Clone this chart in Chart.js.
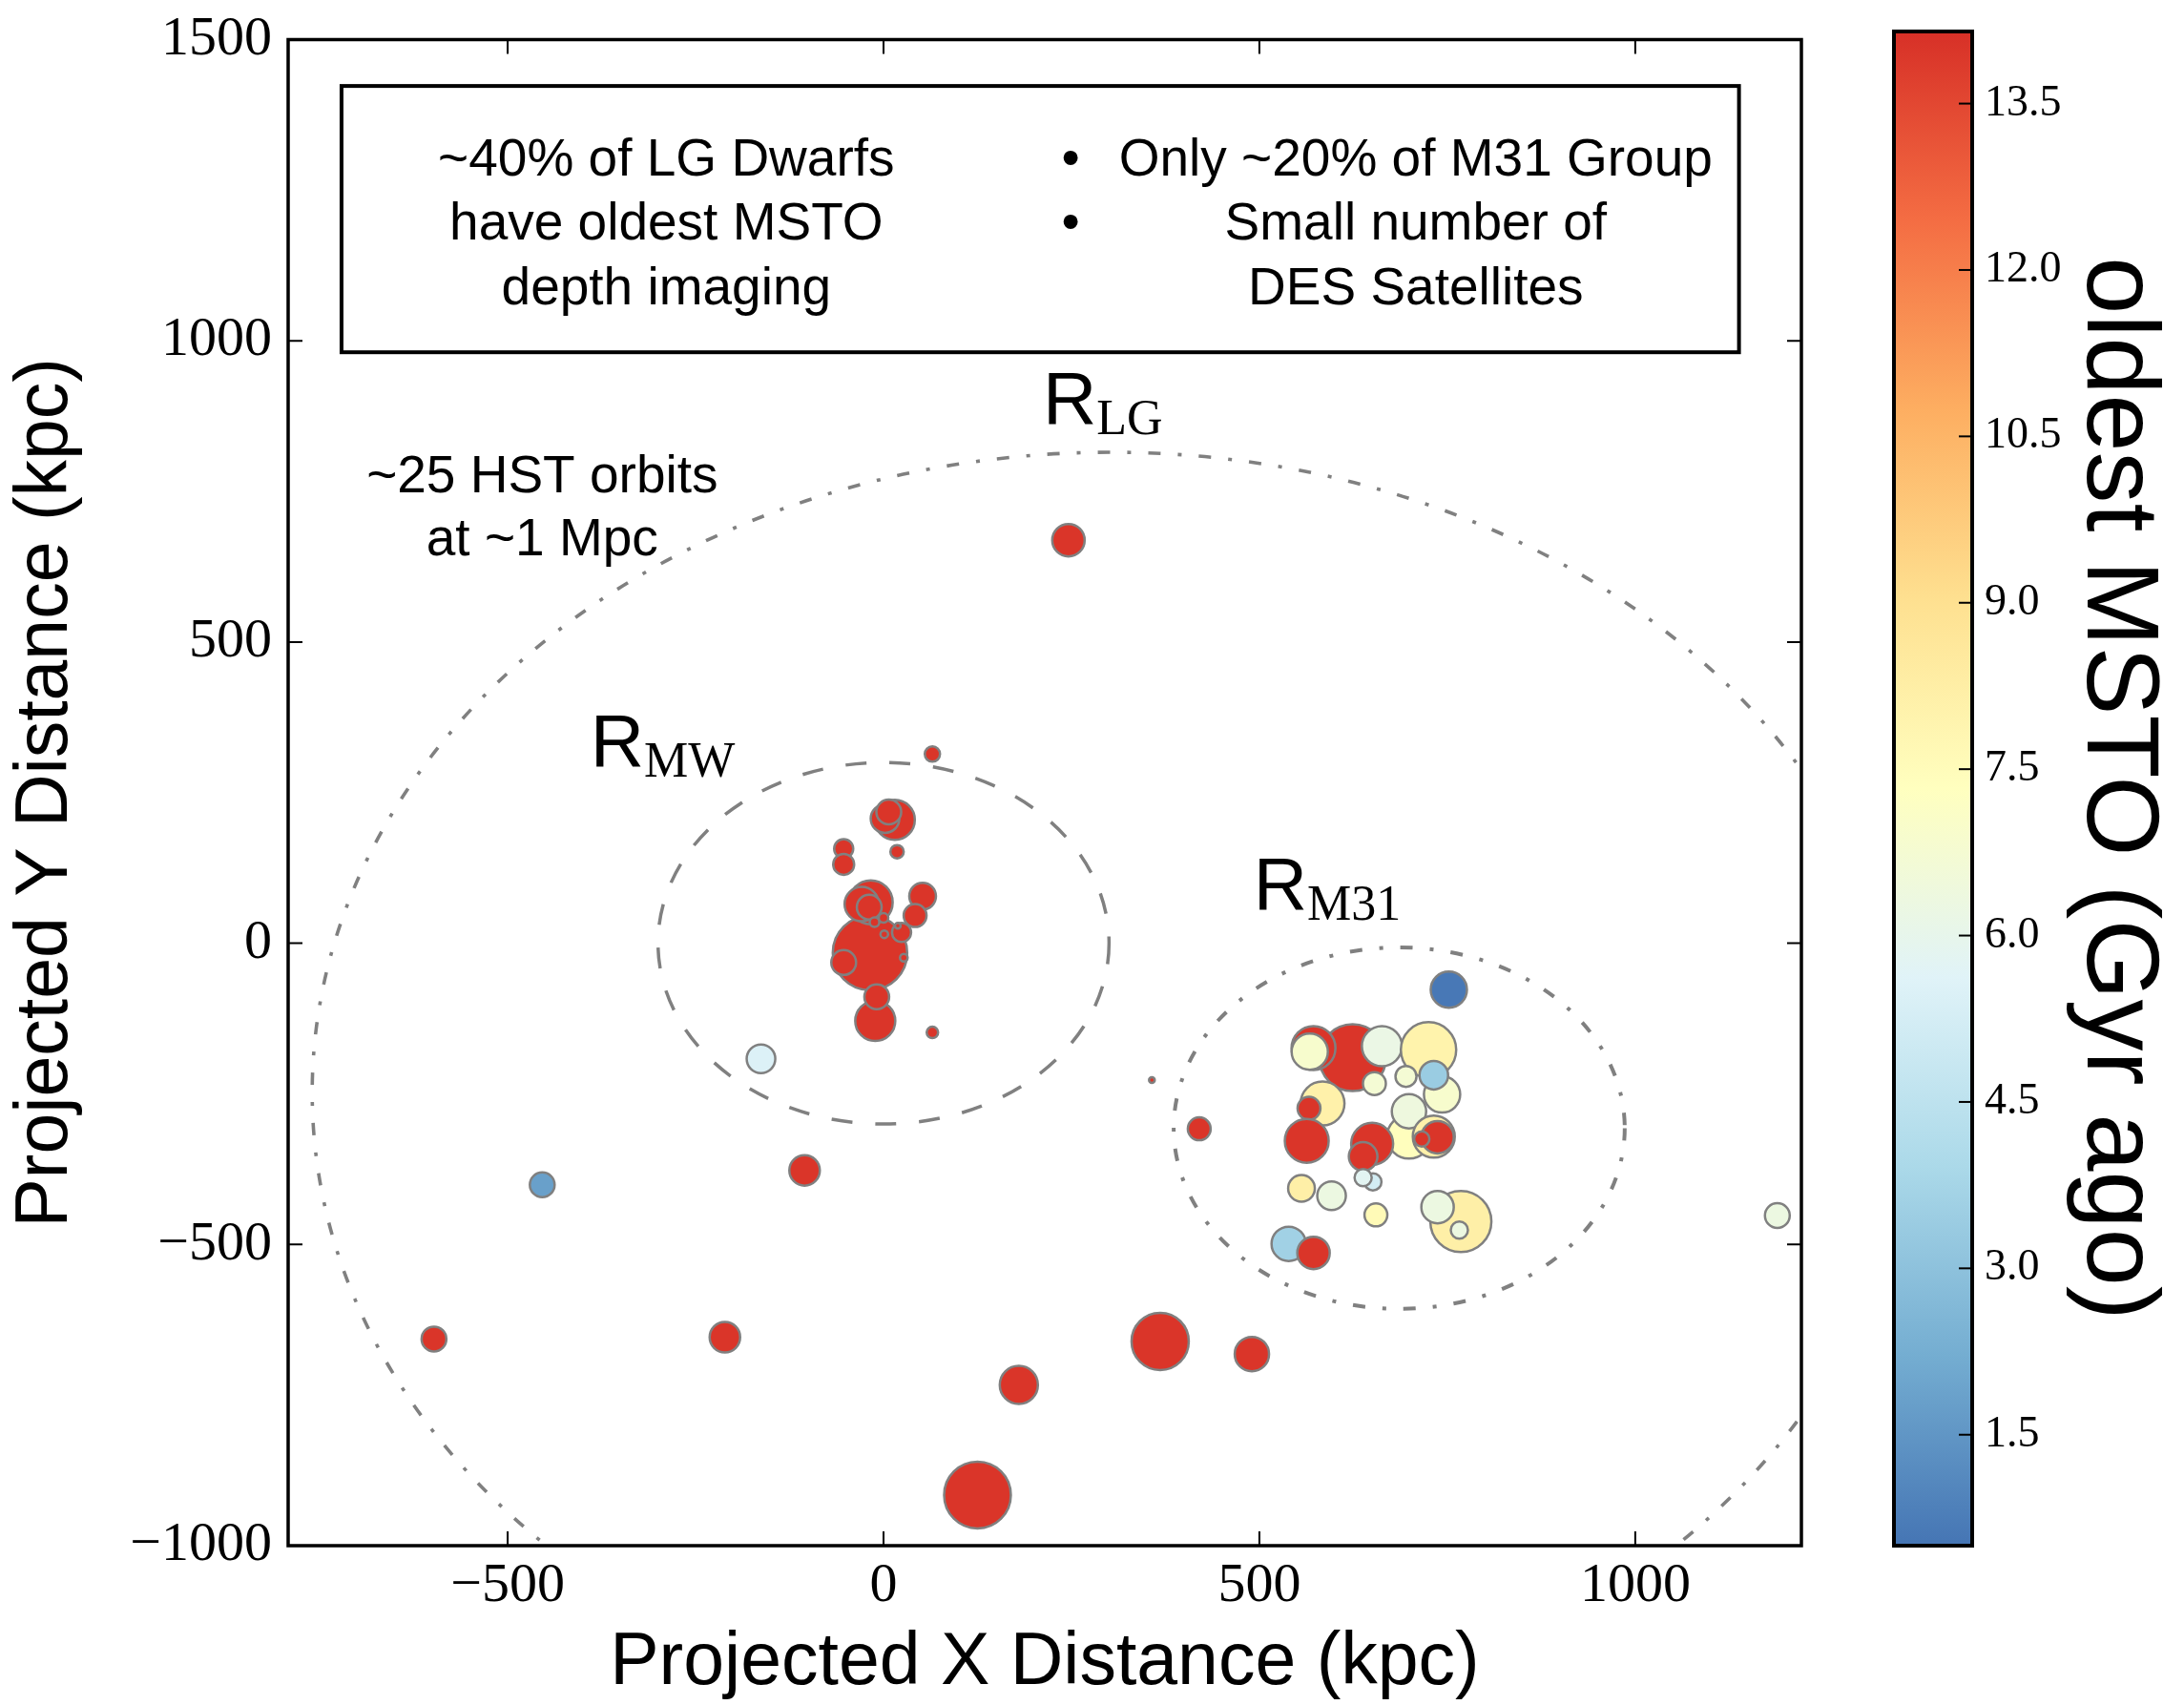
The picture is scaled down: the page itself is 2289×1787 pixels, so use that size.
<!DOCTYPE html>
<html>
<head>
<meta charset="utf-8">
<script src="https://cdn.jsdelivr.net/npm/chart.js@4.4.1/dist/chart.umd.min.js"></script>
<style>
  body { margin: 0; background: #fff; }
  #wrap { position: relative; width: 2289px; height: 1787px; }
  #grafico { position: absolute; left: 0; top: 0; }
  #barra { position: absolute; left: 1940px; top: 0; }
</style>
</head>
<body>
<div id="wrap">
  <canvas id="grafico" width="1960" height="1787"></canvas>
  <canvas id="barra" width="349" height="1787"></canvas>
</div>
<script>
// galaxias do grupo da Via Lactea (kpc, raio do marcador, idade em Gyr)
const mwX = [-18, -17, -29, -19, 52, 42, 24, -53, -11, -9, 15, 2, 7, 18, -53, -53, 65, 65, -12, 0, 1, 19, 27, -163];
const mwY = [-16, 68, 65, 60, 78, 46, 18, -32, -129, -89, 205, 207, 218, 152, 157, 131, 314, -148, 35, 42, 15, 29, -24, -192];
const mwR = [39, 23, 18, 13, 14, 12, 10, 13, 21, 13, 21, 15, 13, 7, 10, 11, 8, 6, 5, 5, 4, 3, 4, 15];
const mwIdade = [14, 14, 14, 14, 14, 14, 14, 14, 14, 14, 14, 14, 14, 14, 14, 14, 14, 14, 14, 14, 14, 14, 14, 5.5];

// grupo de M31
const m31X = [624, 572, 567, 663, 725, 743, 732, 653, 695, 584, 566, 699, 699, 732, 737, 716, 563, 650, 638, 651, 638, 556, 596, 655, 768, 737, 766, 539, 572, 752, 420, 357];
const m31Y = [-190, -174, -180, -171, -177, -251, -219, -233, -221, -266, -274, -321, -279, -321, -322, -325, -328, -333, -354, -396, -389, -407, -419, -451, -462, -438, -476, -499, -514, -77, -308, -227];
const m31R = [35, 23, 19, 21, 29, 19, 15, 12, 11, 23, 12, 23, 18, 22, 17, 8, 23, 22, 15, 9, 9, 14, 15, 12, 32, 17, 9, 18, 17, 19, 12, 3];
const m31Idade = [14, 14, 6.9, 6.2, 8.0, 6.9, 3.4, 6.7, 6.7, 8.1, 14, 7.4, 6.4, 8.1, 14, 14, 14, 14, 14, 5.2, 5.8, 8.2, 6.3, 7.6, 8.2, 6.3, 6.3, 3.6, 14, 0.6, 14, 14];

// resto do Grupo Local
const outrosX = [246, -105, -454, -598, -211, 180, 368, 490, 125, 1189];
const outrosY = [669, -377, -401, -657, -654, -733, -661, -682, -916, -452];
const outrosR = [17, 16, 13, 13, 16, 20, 30, 18, 35, 13];
const outrosIdade = [14, 14, 1.8, 14, 14, 14, 14, 14, 14, 6.3];

// circulos de raio (centro e raio em kpc)
const anelNome = ['MW', 'M31', 'LG'];
const anelX = [0, 686, 303];
const anelY = [0, -307, -248];
const anelR = [300, 300, 1063];

// eixos
const xTicks = [-500, 0, 500, 1000];
const yTicks = [-1000, -500, 0, 500, 1000, 1500];
const xLim = [-792, 1221];
const yLim = [-1000, 1500];
const cbTicks = [1.5, 3.0, 4.5, 6.0, 7.5, 9.0, 10.5, 12.0, 13.5];
const cbLim = [0.5, 14.15];

// textos
const notaEsq = ['~40% of LG Dwarfs', 'have oldest MSTO', 'depth imaging'];
const notaDir = ['Only ~20% of M31 Group', 'Small number of', 'DES Satellites'];
const notaHST = ['~25 HST orbits', 'at ~1 Mpc'];

// estilo
const rdylbu9 = ['#4575b4', '#74add1', '#abd9e9', '#e0f3f8', '#ffffbf', '#fee090', '#fdae61', '#f46d43', '#d73027'];
const estiloAnel = {
    MW: { dash: [22, 24], width: 3.5 },
    M31: { dash: [13, 18, 4, 18], width: 4 },
    LG: { dash: [13, 18, 4, 18], width: 3.6 }
};
// onde ficam os textos (em kpc)
const posNotas = {
    caixa: [-721, 1423, 1138, 981],
    esqX: -289, dirX: 708, bolaX: 249, linhasY: [1275, 1168, 1060],
    hstX: -454, hstY: [749, 644],
    rotulos: { MW: [-390, 294], LG: [212, 862], M31: [492, 56] }
};

const SANS = 'Liberation Sans, Arial, sans-serif';
const SERIF = 'Liberation Serif, Times New Roman, serif';

function hex_rgb(h){
    return [parseInt(h.slice(1, 3), 16), parseInt(h.slice(3, 5), 16), parseInt(h.slice(5, 7), 16)];
}

// RdYlBu_r de 9 cores entre cbLim[0] e cbLim[1]
function cor_idade(v){
    let t = (v - cbLim[0]) / (cbLim[1] - cbLim[0]);
    t = Math.max(0, Math.min(1, t));
    const p = t * (rdylbu9.length - 1);
    const i = Math.min(Math.floor(p), rdylbu9.length - 2);
    const f = p - i;
    const a = hex_rgb(rdylbu9[i]);
    const b = hex_rgb(rdylbu9[i + 1]);
    const c = a.map((q, k) => Math.round(q + (b[k] - q) * f));
    return 'rgb(' + c.join(',') + ')';
}

function monta_dataset(xs, ys, rs, idades){
    const pontos = [];
    for(let i = 0; i < xs.length; i++){
        pontos.push({ x: xs[i], y: ys[i], r: rs[i] });
    }
    return {
        data: pontos,
        backgroundColor: idades.map(cor_idade),
        borderColor: '#808080',
        borderWidth: 2.5
    };
}

function fmt_menos(v){
    return v < 0 ? '\u2212' + Math.abs(v) : String(v);
}

// circulos, moldura, ticks para dentro e textos
const enfeites = {
    id: 'enfeites',
    beforeDatasetsDraw(chart){
        const { ctx, chartArea: a, scales: { x, y } } = chart;
        ctx.save();
        ctx.beginPath();
        ctx.rect(a.left, a.top, a.right - a.left, a.bottom - a.top);
        ctx.clip();
        ctx.strokeStyle = '#808080';
        for(let i = 0; i < anelNome.length; i++){
            const cx = x.getPixelForValue(anelX[i]);
            const cy = y.getPixelForValue(anelY[i]);
            const rx = x.getPixelForValue(anelX[i] + anelR[i]) - cx;
            const ry = cy - y.getPixelForValue(anelY[i] + anelR[i]);
            const est = estiloAnel[anelNome[i]];
            ctx.lineWidth = est.width;
            ctx.setLineDash(est.dash);
            ctx.beginPath();
            ctx.ellipse(cx, cy, rx, ry, 0, 0, Math.PI * 2);
            ctx.stroke();
        }
        ctx.restore();
    },
    afterDraw(chart){
        const { ctx, chartArea: a, scales: { x, y } } = chart;
        ctx.save();
        ctx.strokeStyle = '#000';
        ctx.lineWidth = 2;
        xTicks.forEach(v => {
            const px = x.getPixelForValue(v);
            ctx.beginPath();
            ctx.moveTo(px, a.bottom); ctx.lineTo(px, a.bottom - 15);
            ctx.moveTo(px, a.top); ctx.lineTo(px, a.top + 15);
            ctx.stroke();
        });
        yTicks.forEach(v => {
            const py = y.getPixelForValue(v);
            ctx.beginPath();
            ctx.moveTo(a.left, py); ctx.lineTo(a.left + 15, py);
            ctx.moveTo(a.right, py); ctx.lineTo(a.right - 15, py);
            ctx.stroke();
        });
        ctx.lineWidth = 3.5;
        ctx.strokeRect(a.left, a.top, a.right - a.left, a.bottom - a.top);

        // caixa de texto
        const cx = posNotas.caixa;
        const bx0 = x.getPixelForValue(cx[0]), by0 = y.getPixelForValue(cx[1]);
        const bx1 = x.getPixelForValue(cx[2]), by1 = y.getPixelForValue(cx[3]);
        ctx.lineWidth = 4;
        ctx.strokeRect(bx0, by0, bx1 - bx0, by1 - by0);

        ctx.fillStyle = '#000';
        ctx.textBaseline = 'alphabetic';
        ctx.textAlign = 'center';
        ctx.font = '55px ' + SANS;
        notaEsq.forEach((t, i) => {
            ctx.fillText(t, x.getPixelForValue(posNotas.esqX), y.getPixelForValue(posNotas.linhasY[i]));
        });
        notaDir.forEach((t, i) => {
            ctx.fillText(t, x.getPixelForValue(posNotas.dirX), y.getPixelForValue(posNotas.linhasY[i]));
        });
        for(let i = 0; i < 2; i++){
            ctx.fillText('\u2022', x.getPixelForValue(posNotas.bolaX), y.getPixelForValue(posNotas.linhasY[i]));
        }
        notaHST.forEach((t, i) => {
            ctx.fillText(t, x.getPixelForValue(posNotas.hstX), y.getPixelForValue(posNotas.hstY[i]));
        });

        // rotulos R_MW, R_LG, R_M31
        ctx.textAlign = 'left';
        anelNome.forEach(n => {
            const p = posNotas.rotulos[n];
            const px = x.getPixelForValue(p[0]);
            const py = y.getPixelForValue(p[1]);
            ctx.font = '78px ' + SANS;
            ctx.fillText('R', px, py);
            const w = ctx.measureText('R').width;
            ctx.font = '52px ' + SERIF;
            ctx.fillText(n, px + w, py + 11);
        });
        ctx.restore();
    }
};

Chart.defaults.font.family = SANS;
Chart.defaults.color = '#000';

new Chart('grafico', {
    type: 'bubble',
    data: {
        datasets: [
            monta_dataset(mwX, mwY, mwR, mwIdade),
            monta_dataset(m31X, m31Y, m31R, m31Idade),
            monta_dataset(outrosX, outrosY, outrosR, outrosIdade)
        ]
    },
    options: {
        responsive: false,
        animation: false,
        events: [],
        layout: { padding: { left: 0, right: 72, top: 30, bottom: 0 } },
        plugins: { legend: { display: false }, tooltip: { enabled: false } },
        scales: {
            x: {
                type: 'linear',
                min: xLim[0], max: xLim[1],
                afterBuildTicks: s => { s.ticks = xTicks.map(v => ({ value: v })); },
                afterFit: s => { s.height = 167; },
                grid: { display: false, drawTicks: false },
                border: { display: false },
                ticks: {
                    autoSkip: false, maxRotation: 0, padding: 8,
                    font: { family: SERIF, size: 58 },
                    callback: v => fmt_menos(v)
                },
                title: {
                    display: true, text: 'Projected X Distance (kpc)',
                    font: { family: SANS, size: 77, lineHeight: 1 },
                    padding: { top: 0, bottom: 5 }
                }
            },
            y: {
                type: 'linear',
                min: yLim[0], max: yLim[1],
                afterBuildTicks: s => { s.ticks = yTicks.map(v => ({ value: v })); },
                afterFit: s => { s.width = 302; },
                grid: { display: false, drawTicks: false },
                border: { display: false },
                ticks: {
                    autoSkip: false, padding: 17,
                    font: { family: SERIF, size: 58, lineHeight: 0.4 },
                    callback: v => fmt_menos(v)
                },
                title: {
                    display: true, text: 'Projected Y Distance (kpc)',
                    font: { family: SANS, size: 77, lineHeight: 1 },
                    padding: { top: 10, bottom: 0 }
                }
            }
        }
    },
    plugins: [enfeites]
});

// barra de cores
const pintaBarra = {
    id: 'pintaBarra',
    beforeDatasetsDraw(chart){
        const { ctx, chartArea: a, scales: { y } } = chart;
        ctx.save();
        const g = ctx.createLinearGradient(0, y.getPixelForValue(cbLim[0]), 0, y.getPixelForValue(cbLim[1]));
        rdylbu9.forEach((c, i) => g.addColorStop(i / (rdylbu9.length - 1), c));
        ctx.fillStyle = g;
        ctx.fillRect(a.left, a.top, a.right - a.left, a.bottom - a.top);
        ctx.strokeStyle = '#000';
        ctx.lineWidth = 2;
        cbTicks.forEach(v => {
            const py = y.getPixelForValue(v);
            ctx.beginPath();
            ctx.moveTo(a.right - 14, py); ctx.lineTo(a.right, py);
            ctx.stroke();
        });
        ctx.lineWidth = 4;
        ctx.strokeRect(a.left, a.top, a.right - a.left, a.bottom - a.top);
        ctx.restore();
    }
};

new Chart('barra', {
    type: 'bubble',
    data: { datasets: [] },
    options: {
        responsive: false,
        animation: false,
        events: [],
        layout: { padding: { left: 45, right: 0, top: 33, bottom: 167 } },
        plugins: { legend: { display: false }, tooltip: { enabled: false } },
        scales: {
            x: { type: 'linear', display: false, min: 0, max: 1 },
            y: {
                type: 'linear',
                position: 'right',
                min: cbLim[0], max: cbLim[1],
                afterBuildTicks: s => { s.ticks = cbTicks.map(v => ({ value: v })); },
                afterFit: s => { s.width = 222; },
                grid: { display: false, drawTicks: false },
                border: { display: false },
                ticks: {
                    autoSkip: false, padding: 13,
                    font: { family: SERIF, size: 46, lineHeight: 0.4 },
                    callback: v => Number(v).toFixed(1)
                },
                title: {
                    display: true, text: 'oldest MSTO (Gyr ago)',
                    font: { family: SANS, size: 108, lineHeight: 1 },
                    padding: { top: 17, bottom: 0 }
                }
            }
        }
    },
    plugins: [pintaBarra]
});
</script>
</body>
</html>
